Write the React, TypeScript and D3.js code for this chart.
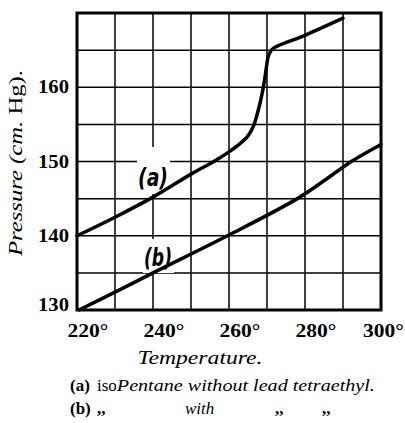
import React from "react";
import * as d3 from "d3";

// ---- data ----
const curveA: [number, number][] = [
  [220, 140.0], [230, 142.5], [240, 145.2], [250, 148.3], [256, 150.0],
  [260, 151.3], [262.9, 152.4], [265.0, 153.45], [266.3, 154.6], [267.1, 155.8],
  [267.9, 157.3], [268.7, 159.1], [269.4, 161.1], [269.9, 162.9], [270.3, 164.1],
  [270.9, 164.8], [271.8, 165.3], [280, 167.0], [290, 169.3],
];
const curveB: [number, number][] = [
  [220.5, 130.0], [230, 132.4], [240, 135.0], [260, 140.1], [278, 145.0],
  [285, 147.4], [292.5, 150.1], [300, 152.3],
];
const xTickLabels = [220, 240, 260, 280, 300];
const yTickLabels = [130, 140, 150, 160];
const xGrid = d3.range(220, 301, 10);
const yGrid = d3.range(130, 171, 5);

const W = 405, H = 423;
const L = 77, R = 381, T = 13, B = 310;

export default function App() {
  const x = d3.scaleLinear().domain([220, 300]).range([L, R]);
  const y = d3.scaleLinear().domain([130, 170]).range([B, T]);
  const line = d3.line<[number, number]>().x(d => x(d[0])).y(d => y(d[1])).curve(d3.curveCatmullRom.alpha(0.5));
  const serif = "Liberation Serif, Tinos, Times New Roman, DejaVu Serif, serif";
  return (
    <svg width={W} height={H} style={{ position: "absolute", left: 0, top: 0, background: "#fff" }}>
      <rect x={0} y={0} width={W} height={H} fill="#fff" />
      {xGrid.map(v => (
        <line key={"gx" + v} x1={x(v)} x2={x(v)} y1={T} y2={B} stroke="#000" strokeWidth={1.5} />
      ))}
      {yGrid.map(v => (
        <line key={"gy" + v} x1={L} x2={R} y1={y(v)} y2={y(v)} stroke="#000" strokeWidth={1.5} />
      ))}
      {/* label masks */}
      <rect x={137} y={147} width={33} height={47} fill="#fff" />
      <rect x={143} y={239} width={31} height={34} fill="#fff" />
      <rect x={L} y={T} width={R - L} height={B - T} fill="none" stroke="#000" strokeWidth={3} />
      <path d={line(curveA) || ""} fill="none" stroke="#000" strokeWidth={3.5} strokeLinejoin="round" strokeLinecap="round" />
      <path d={line(curveB) || ""} fill="none" stroke="#000" strokeWidth={3.5} strokeLinejoin="round" strokeLinecap="round" />
      <text x={153} y={186} textAnchor="middle" fontFamily="DejaVu Sans, sans-serif" fontWeight="bold" fontSize={25} textLength={30} lengthAdjust="spacingAndGlyphs" fontStyle="italic">(a)</text>
      <text x={158} y={266} textAnchor="middle" fontFamily="DejaVu Sans, sans-serif" fontWeight="bold" fontSize={25} textLength={28} lengthAdjust="spacingAndGlyphs" fontStyle="italic">(b)</text>
      {yTickLabels.map(v => (
        <text key={"yl" + v} x={69} y={Math.min(y(v), B - 5)} dy="0.34em" textAnchor="end" fontFamily={serif} fontWeight="bold" fontSize={18} textLength={31} lengthAdjust="spacingAndGlyphs">{v}</text>
      ))}
      {xTickLabels.map(v => (
        <text key={"xl" + v} x={Math.min(x(v) + 11, 383.5)} y={337} textAnchor="middle" fontFamily={serif} fontWeight="bold" fontSize={18} textLength={41} lengthAdjust="spacingAndGlyphs">{v}°</text>
      ))}
      <text x={200} y={364} textAnchor="middle" fontFamily={serif} fontStyle="italic" fontSize={18} textLength={125} lengthAdjust="spacingAndGlyphs">Temperature.</text>
      <text transform="translate(22,163) rotate(-90)" textAnchor="middle" fontFamily={serif} fontSize={18} textLength={186} lengthAdjust="spacingAndGlyphs">
        <tspan fontStyle="italic">Pressure (cm. </tspan><tspan>Hg).</tspan>
      </text>
      <text y={391} fontFamily={serif} fontSize={17}>
        <tspan x={70} fontWeight="bold">(a)</tspan>
        <tspan x={97}>iso</tspan>
        <tspan fontStyle="italic" textLength={258} lengthAdjust="spacingAndGlyphs">Pentane without lead tetraethyl.</tspan>
      </text>
      <text y={414} fontFamily={serif} fontSize={17}>
        <tspan x={70} fontWeight="bold">(b)</tspan>
        <tspan x={97} fontWeight="bold">,,</tspan>
        <tspan x={185} fontStyle="italic">with</tspan>
        <tspan x={275} fontWeight="bold">,,</tspan>
        <tspan x={322} fontWeight="bold">,,</tspan>
      </text>
    </svg>
  );
}
